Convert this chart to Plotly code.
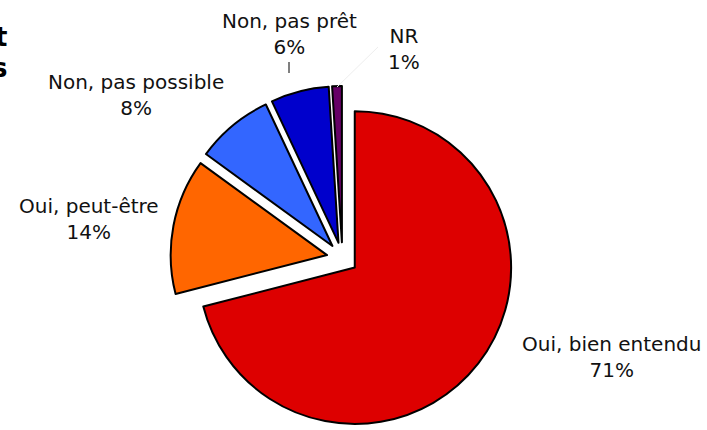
import plotly.graph_objects as go

labels = ["Oui, bien entendu", "Oui, peut-être", "Non, pas possible", "Non, pas prêt", "NR"]
values = [71, 14, 8, 6, 1]
colors = ["#DD0000", "#FF6600", "#3366FF", "#0000CC", "#660066"]
title_fragments = ["t", "s"]

W, H = 707, 430

# label block centres (pixels)
label_pos = [(611.7, 357), (88.8, 219), (135.8, 94.5), (289, 34), (404, 49)]

fig = go.Figure(go.Pie(
    labels=labels,
    values=values,
    marker=dict(colors=colors, line=dict(color="black", width=2)),
    sort=False,
    direction="clockwise",
    rotation=0,
    pull=[0.1] * len(values),
    textinfo="none",
    hoverinfo="label+percent",
    showlegend=False,
    domain=dict(x=[0.241, 0.7276], y=[0.0, 0.8]),
))

total = sum(values)
annotations = []
for lab, val, (px, py) in zip(labels, values, label_pos):
    annotations.append(dict(
        text=f"{lab}<br>{round(100 * val / total)}%",
        x=px / W, y=1 - py / H, xref="paper", yref="paper",
        xanchor="center", yanchor="middle", showarrow=False,
        font=dict(family="DejaVu Sans", size=20, color="#111111"),
    ))

for frag, py in zip(title_fragments, [37, 68]):
    annotations.append(dict(
        text=f"<b>{frag}</b>", x=9 / W, y=1 - py / H, xref="paper", yref="paper",
        xanchor="right", yanchor="middle", showarrow=False,
        font=dict(family="DejaVu Sans", size=26, color="black"),
    ))

shapes = [
    dict(type="line", xref="paper", yref="paper",
         x0=289 / W, x1=289 / W, y0=1 - 62 / H, y1=1 - 73 / H,
         line=dict(color="black", width=1)),
    dict(type="line", xref="paper", yref="paper",
         x0=337 / W, x1=378 / W, y0=1 - 87 / H, y1=1 - 47 / H,
         line=dict(color="#eeeeee", width=1)),
]

fig.update_layout(
    width=W, height=H,
    margin=dict(l=0, r=0, t=0, b=0),
    paper_bgcolor="white", plot_bgcolor="white",
    annotations=annotations, shapes=shapes,
)

fig.write_html("out.html", config={"displayModeBar": False},
               post_script="document.body.style.margin='0';")
